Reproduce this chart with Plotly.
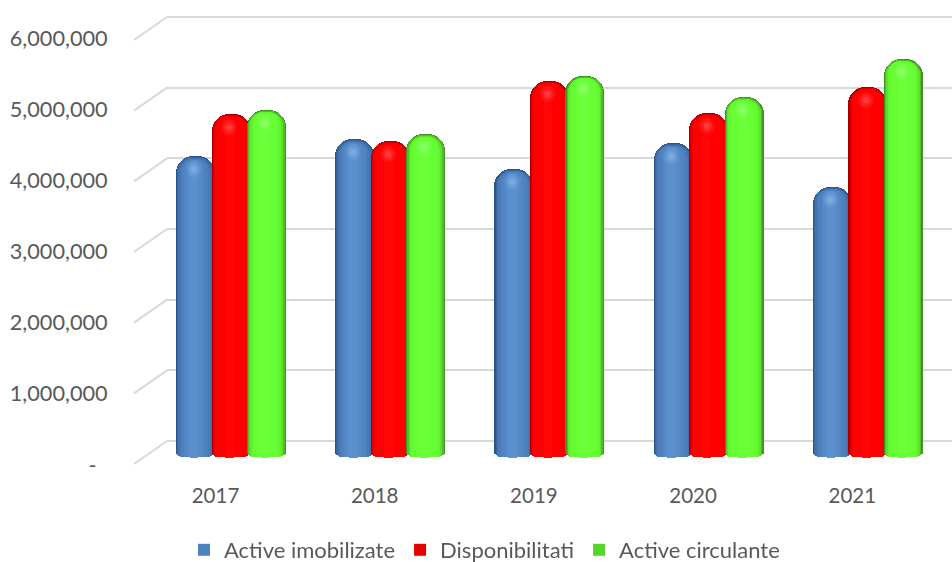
import plotly.graph_objects as go

# ---- data ----
years = ["2017", "2018", "2019", "2020", "2021"]
active_imobilizate = [4180000, 4420000, 4000000, 4360000, 3750000]
disponibilitati = [4770000, 4390000, 5240000, 4790000, 5150000]
active_circulante = [4830000, 4490000, 5310000, 5010000, 5550000]
tick_values = [0, 1000000, 2000000, 3000000, 4000000, 5000000, 6000000]
tick_labels = ["-\u00a0\u00a0", "1,000,000", "2,000,000", "3,000,000", "4,000,000", "5,000,000", "6,000,000"]

W, H = 952, 562
L, R, T, B = 167, 952, 0, 466
idx = list(range(len(years)))


def yrange(zero_px, px_per_m):
    return [(zero_px - B) / px_per_m * 1e6, (zero_px - T) / px_per_m * 1e6]


BAR_SCALE = 71.0
PX = 1e6 / BAR_SCALE  # value units per pixel on the bar axis
BAR_W = 39 / 159.2
STEP = 35.5 / 159.2

series = [
    ("Active imobilizate", active_imobilizate, -STEP, "#4f81bd",
     ["#2d5688", "#38679f", "#4272ae", "#4a7bb8", "#4e80bd", "#5285c3", "#568ac9", "#5b90d0"], "#9cc4f5"),
    ("Disponibilitati", disponibilitati, 0, "#e60000",
     ["#a80000", "#d60000", "#f00000", "#fb0000", "#ff0000", "#ff0000", "#ff0000", "#ff0606"], "#ff7070"),
    ("Active circulante", active_circulante, STEP, "#55d62c",
     ["#3f9422", "#4fbf28", "#5de02e", "#63f431", "#66fb33", "#66ff33", "#66ff33", "#6cff3b"], "#a8ff88"),
]
FRACS = [1.0, 0.93, 0.86, 0.78, 0.68, 0.55, 0.40, 0.22]
DEPTHS = [1.0, 2.2, 3.0, 3.5, 3.9, 4.2, 4.4, 4.5]
TOPS = [0, 1.0, 1.8, 2.4, 3.0, 3.5, 4.0, 4.5]

fig = go.Figure()
for name, values, off, key, shades, glow in series:
    # square legend key
    fig.add_trace(go.Bar(x=idx, y=[0] * len(values), width=0, name=name,
                         marker=dict(color=key, line_width=0), hoverinfo="skip"))
    for f, d, t, c in zip(FRACS, DEPTHS, TOPS, shades):
        shift = -(1 - f) * 0.012
        xs = [k + off + shift for k in idx]
        fig.add_trace(go.Bar(
            x=xs, y=[v - t * PX for v in values], width=BAR_W * f,
            showlegend=False, hoverinfo="skip",
            marker=dict(color=c, line_width=0, cornerradius=16 * f + 1),
        ))
        fig.add_trace(go.Bar(
            x=xs, y=[-d * PX] * len(values), width=BAR_W * f,
            showlegend=False, hoverinfo="skip",
            marker=dict(color=c, line_width=0),
        ))
    for size, op in [(16, 0.12), (11, 0.18), (6, 0.3)]:
        fig.add_trace(go.Scatter(
            x=[k + off - 0.012 for k in idx],
            y=[v - 13 * PX for v in values],
            mode="markers",
            marker=dict(size=size, color=glow, opacity=op, line_width=0),
            showlegend=False,
            hoverinfo="skip",
        ))

# helper traces so the overlay axes exist
fig.add_trace(go.Scatter(x=idx, y=active_imobilizate, xaxis="x2", yaxis="y2", mode="markers",
                         opacity=0, showlegend=False, hoverinfo="skip"))
fig.add_trace(go.Scatter(x=idx, y=active_imobilizate, xaxis="x", yaxis="y3", mode="markers",
                         opacity=0, showlegend=False, hoverinfo="skip"))

GRID = "#d9d9d9"
FRONT_SCALE = 71.17
ZERO_LABEL_PX = 465
shapes = []
for v in tick_values:
    shapes.append(dict(type="line", xref="paper", yref="y3",
                       x0=(134 - L) / (R - L), x1=0,
                       y0=v - 23 / 70.67 * 1e6, y1=v,
                       line=dict(color=GRID, width=2), layer="below"))

TXT = dict(family="Lato, sans-serif", size=21.7, color="#595959")
LEG_TXT = dict(family="Lato, sans-serif", size=22, color="#595959")
YEARS_TXT = dict(family="Lato, sans-serif", size=20.5, color="#595959")
fig.update_layout(
    width=W, height=H,
    autosize=False,
    margin=dict(l=L, r=0, t=T, b=H - B, pad=0),
    paper_bgcolor="white", plot_bgcolor="white",
    barmode="overlay",
    bargap=0,
    shapes=shapes,
    font=TXT,
    xaxis=dict(range=[(L - 231) / 159.2, (R - 231) / 159.2], showgrid=False, zeroline=False,
               showticklabels=False, ticks="", showline=False, fixedrange=True),
    xaxis2=dict(overlaying="x", range=[(L - 215.5) / 159.2, (R - 215.5) / 159.2], anchor="y",
                side="bottom", showgrid=False, zeroline=False, showline=False,
                tickmode="array", tickvals=idx, ticktext=years,
                ticks="outside", ticklen=11, tickcolor="rgba(0,0,0,0)", tickfont=YEARS_TXT),
    yaxis=dict(range=yrange(453, BAR_SCALE), showgrid=False, zeroline=False,
               showticklabels=False, ticks="", showline=False, fixedrange=True),
    yaxis2=dict(overlaying="y", range=yrange(ZERO_LABEL_PX, FRONT_SCALE), anchor="x", side="left",
                showgrid=False, zeroline=False, showline=False,
                tickmode="array", tickvals=tick_values, ticktext=tick_labels,
                ticks="outside", ticklen=54, tickcolor="rgba(0,0,0,0)", tickfont=TXT),
    yaxis3=dict(overlaying="y", range=yrange(441, 70.67), anchor="x", showgrid=True,
                gridcolor=GRID, gridwidth=2, zeroline=False, showline=False,
                tickmode="array", tickvals=tick_values, showticklabels=False, ticks=""),
    legend=dict(orientation="h", xref="container", yref="container",
                x=184 / W, xanchor="left",
                y=(H - 529) / H, yanchor="top", font=LEG_TXT,
                bgcolor="rgba(0,0,0,0)", itemclick=False, itemdoubleclick=False),
    showlegend=True,
)

fig.write_html("out.html", post_script="document.body.style.margin='0';",
               config=dict(displayModeBar=False))
